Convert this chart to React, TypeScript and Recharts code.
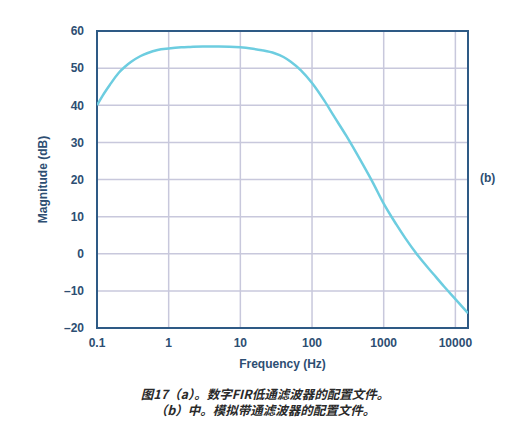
import { LineChart, Line, XAxis, YAxis, CartesianGrid, ReferenceArea } from 'recharts';

const FREQUENCIES = [
  0.1, 0.12, 0.15, 0.2, 0.25, 0.3, 0.4, 0.5, 0.7, 1, 1.5, 2, 3, 5, 10, 15, 20, 30, 40, 50, 70,
  100, 150, 200, 300, 500, 700, 1000, 1500, 2000, 3000, 5000, 7000, 10000, 15000,
];
const MAGNITUDES = [
  40, 42.6, 45.4, 48.7, 50.5, 51.7, 53.2, 54, 54.9, 55.3, 55.6, 55.7, 55.8, 55.8, 55.6, 55.2,
  54.8, 54.0, 53.0, 51.8, 49.4, 46, 41.1, 37.2, 31.8, 24.4, 19.3, 13.5, 7.9, 4.2, -0.5, -5.6,
  -8.9, -12.2, -16.0,
];
const X_TICKS = [0.1, 1, 10, 100, 1000, 10000];
const Y_TICKS = [-20, -10, 0, 10, 20, 30, 40, 50, 60];

const data = FREQUENCIES.map((f, i) => ({ freq: f, mag: MAGNITUDES[i] }));

const NAVY = '#2e5a85';
const TEXT = '#2d4e72';
const FONT = '"Liberation Sans", Arial, sans-serif';

const fmtY = (v: number) => (v < 0 ? `\u2013${Math.abs(v)}` : `${v}`);

export default function App() {
  return (
    <div style={{ position: 'absolute', left: 0, top: 0, width: 516, height: 424, background: '#fff', fontFamily: FONT }}>
      <LineChart
        width={516}
        height={424}
        data={data}
        margin={{ top: 31, right: 48, left: 0, bottom: 66 }}
      >
        <CartesianGrid stroke="#c8c8dc" strokeWidth={1.5} horizontalValues={Y_TICKS} verticalValues={X_TICKS} />
        <XAxis
          dataKey="freq"
          type="number"
          scale="log"
          domain={[0.1, 15000]}
          ticks={X_TICKS}
          allowDataOverflow
          height={30}
          tickLine={false}
          axisLine={false}
          tickMargin={4}
          tick={{ fill: TEXT, fontSize: 12, fontWeight: 700, fontFamily: FONT }}
          label={{ value: 'Frequency (Hz)', position: 'insideBottom', offset: -10, fill: TEXT, fontSize: 12, fontWeight: 700, fontFamily: FONT }}
        />
        <YAxis
          type="number"
          domain={[-20, 60]}
          ticks={Y_TICKS}
          width={97}
          tickLine={false}
          axisLine={false}
          tickMargin={7}
          tickFormatter={fmtY}
          tick={{ fill: TEXT, fontSize: 12, fontWeight: 700, fontFamily: FONT }}
          label={{ value: 'Magnitude (dB)', angle: -90, position: 'insideLeft', offset: 43, fill: TEXT, fontSize: 12, fontWeight: 700, fontFamily: FONT, style: { textAnchor: 'middle' } }}
        />
        <ReferenceArea x1={0.1} x2={15000} y1={-20} y2={60} fill="none" stroke={NAVY} strokeWidth={2} ifOverflow="visible" />
        <Line
          type="monotone"
          dataKey="mag"
          stroke="#6dcde0"
          strokeWidth={2.5}
          dot={false}
          isAnimationActive={false}
        />
      </LineChart>
      <div style={{ position: 'absolute', left: 480, top: 171, color: TEXT, fontSize: 12, fontWeight: 700 }}>(b)</div>
      <div
        style={{
          position: 'absolute',
          left: 0,
          width: 530,
          top: 386,
          textAlign: 'center',
          fontFamily: '"Noto Sans CJK SC", sans-serif',
          fontStyle: 'italic',
          fontWeight: 700,
          fontSize: 12.5,
          lineHeight: '16px',
          color: '#2a2a2a',
        }}
      >
        <div>图17（a）。数字FIR低通滤波器的配置文件。</div>
        <div>（b）中。模拟带通滤波器的配置文件。</div>
      </div>
    </div>
  );
}
